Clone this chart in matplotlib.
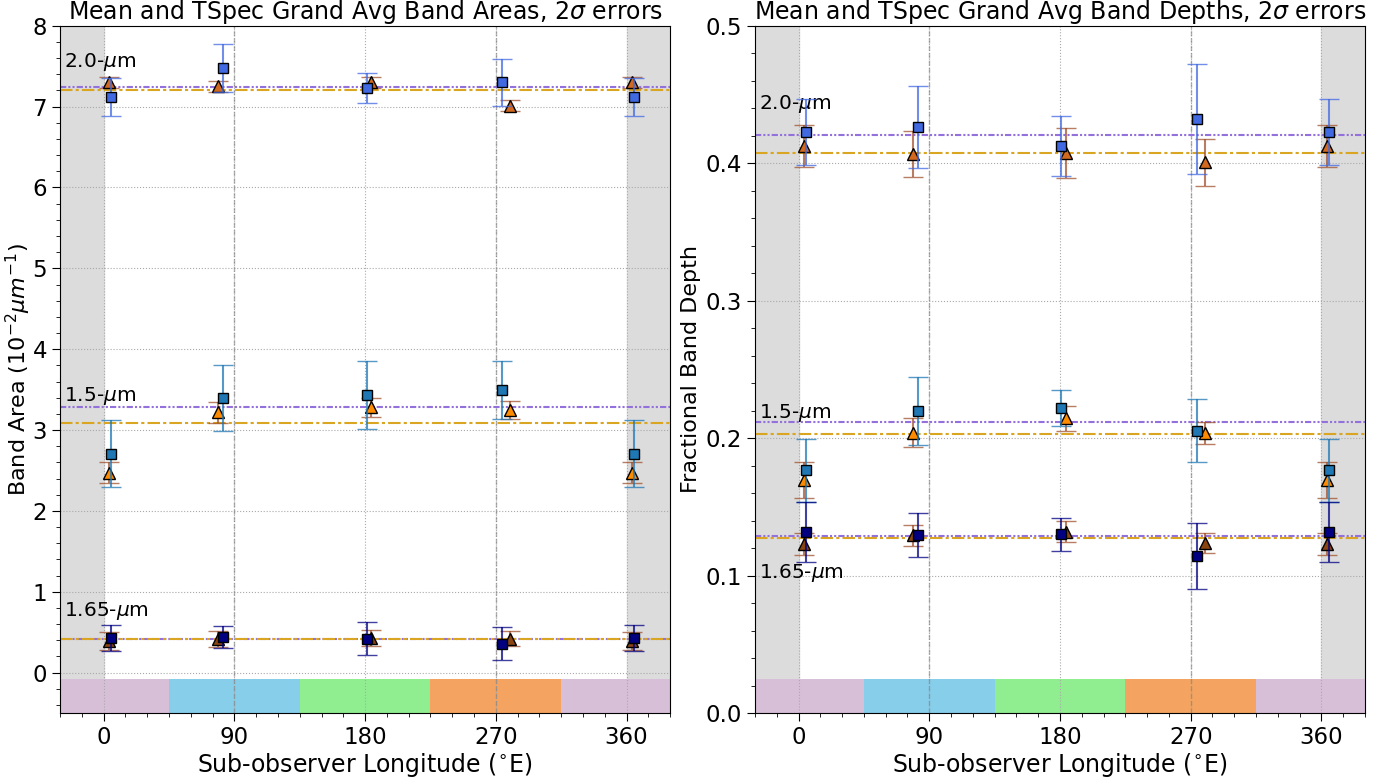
import numpy as np
import matplotlib
matplotlib.use("Agg")
import matplotlib.pyplot as plt
from matplotlib.ticker import MultipleLocator

# longitudes of the observations (squares = mean, triangles = TSpec grand avg)
sq_lon = [5, 82, 181, 274]
tri_lon = [3.5, 79, 184, 280]

bands = ["2.0", "1.5", "1.65"]

# band areas (10^-2 um^-1)
area_sq = {"2.0": [7.12, 7.48, 7.23, 7.30],
           "1.5": [2.71, 3.40, 3.43, 3.50],
           "1.65": [0.43, 0.44, 0.42, 0.36]}
area_sq_err = {"2.0": [0.23, 0.30, 0.19, 0.29],
               "1.5": [0.41, 0.41, 0.42, 0.36],
               "1.65": [0.16, 0.14, 0.20, 0.21]}
area_tri = {"2.0": [7.30, 7.25, 7.30, 7.01],
            "1.5": [2.47, 3.22, 3.28, 3.25],
            "1.65": [0.39, 0.42, 0.43, 0.42]}
area_tri_err = {"2.0": [0.07, 0.07, 0.07, 0.07],
                "1.5": [0.13, 0.13, 0.12, 0.11],
                "1.65": [0.11, 0.10, 0.10, 0.09]}
area_mean = {"2.0": 7.245, "1.5": 3.29, "1.65": 0.41}
area_tspec = {"2.0": 7.20, "1.5": 3.09, "1.65": 0.41}
area_label_y = {"2.0": 7.55, "1.5": 3.42, "1.65": 0.76}

# fractional band depths
depth_sq = {"2.0": [0.4224, 0.4265, 0.4125, 0.4323],
            "1.5": [0.1765, 0.2197, 0.2219, 0.2054],
            "1.65": [0.1318, 0.1296, 0.1301, 0.1143]}
depth_sq_err = {"2.0": [0.024, 0.030, 0.022, 0.040],
                "1.5": [0.023, 0.0245, 0.013, 0.023],
                "1.65": [0.022, 0.016, 0.012, 0.024]}
depth_tri = {"2.0": [0.4125, 0.4068, 0.4075, 0.4006],
             "1.5": [0.1695, 0.2039, 0.2143, 0.2034],
             "1.65": [0.1231, 0.1293, 0.1320, 0.1236]}
depth_tri_err = {"2.0": [0.015, 0.017, 0.018, 0.017],
                 "1.5": [0.013, 0.0104, 0.009, 0.008],
                 "1.65": [0.008, 0.0075, 0.0075, 0.0075]}
depth_mean = {"2.0": 0.4204, "1.5": 0.2114, "1.65": 0.1289}
depth_tspec = {"2.0": 0.4074, "1.5": 0.2027, "1.65": 0.1277}
depth_label_y = {"2.0": 0.443, "1.5": 0.218, "1.65": 0.102}

sq_color = {"2.0": "royalblue", "1.5": "#1f77b4", "1.65": "navy"}
tri_color = {"2.0": "chocolate", "1.5": "darkorange", "1.65": "saddlebrown"}

# longitude bands along the bottom
band_edges = [-30, 45, 135, 225, 315, 390]
band_colors = ["thistle", "skyblue", "lightgreen", "sandybrown", "thistle"]


def wrap(lon, vals):
    # repeat the first observation at +360
    return list(lon) + [lon[0] + 360], list(vals) + [vals[0]]


def errbars(ax, lon, vals, errs, marker, ms, face, ecol, z):
    x, y = wrap(lon, vals)
    _, e = wrap(lon, errs)
    line, caps, bars = ax.errorbar(x, y, yerr=e, fmt=marker, ms=ms, mfc=face,
                                   mec="black", mew=1, ecolor=ecol,
                                   elinewidth=1.5, capsize=7, capthick=1.5,
                                   zorder=z)
    for c in caps:
        c.set_alpha(0.75)
    for b in bars:
        b.set_alpha(0.75)


def draw_panel(ax, sq, sq_err, tri, tri_err, mean, tspec, label_y):
    ax.axvspan(-30, 0, color="gainsboro", zorder=0)
    ax.axvspan(360, 390, color="gainsboro", zorder=0)
    for i in range(len(band_colors)):
        ax.axvspan(band_edges[i], band_edges[i + 1], ymin=0, ymax=0.05,
                   color=band_colors[i], lw=0, zorder=1)
    ax.grid(True, ls=":", color="darkgray", lw=0.8)
    ax.axvline(90, ls="--", color="gray", lw=1, alpha=0.6)
    ax.axvline(270, ls="--", color="gray", lw=1, alpha=0.6)

    for b in bands:
        ax.axhline(mean[b], color="mediumpurple", lw=1.5,
                   ls=(0, (3, 1, 1, 1, 1, 1)), zorder=2)
        ax.axhline(tspec[b], color="goldenrod", lw=1.5,
                   ls=(0, (6, 1.5, 1.5, 1.5)), zorder=2)
        errbars(ax, tri_lon, tri[b], tri_err[b], "^", 9, tri_color[b],
                "sienna", 3)
        errbars(ax, sq_lon, sq[b], sq_err[b], "s", 7.5, sq_color[b],
                sq_color[b], 4)
        ax.text(-27, label_y[b], b + r"-$\mu$m", fontsize=14.5, va="center")

    ax.set_xlim(-30, 390)
    ax.set_xticks([0, 90, 180, 270, 360])
    ax.xaxis.set_minor_locator(MultipleLocator(15))
    ax.tick_params(which="major", labelsize=16.5, length=6)
    ax.tick_params(which="minor", length=3)
    ax.set_xlabel(r"Sub-observer Longitude ($^{\circ}$E)", fontsize=17,
                  labelpad=1)


fig = plt.figure(figsize=(13.97, 7.81), dpi=100)
ax1 = fig.add_axes([0.043, 0.087, 0.4367, 0.88])
ax2 = fig.add_axes([0.5404, 0.087, 0.4367, 0.88])

draw_panel(ax1, area_sq, area_sq_err, area_tri, area_tri_err,
           area_mean, area_tspec, area_label_y)
ax1.set_ylim(-0.5, 8)
ax1.yaxis.set_major_locator(MultipleLocator(1))
ax1.yaxis.set_minor_locator(MultipleLocator(0.2))
ax1.set_ylabel(r"Band Area ($10^{-2} \mu m^{-1}$)", fontsize=16)
ax1.yaxis.set_label_coords(-0.044, 0.5)
ax1.set_title(r"Mean and TSpec Grand Avg Band Areas, 2$\sigma$ errors",
              fontsize=17, pad=3)

draw_panel(ax2, depth_sq, depth_sq_err, depth_tri, depth_tri_err,
           depth_mean, depth_tspec, depth_label_y)
ax2.set_ylim(0, 0.5)
ax2.yaxis.set_major_locator(MultipleLocator(0.1))
ax2.yaxis.set_minor_locator(MultipleLocator(0.02))
ax2.set_ylabel("Fractional Band Depth", fontsize=16)
ax2.yaxis.set_label_coords(-0.088, 0.5)
ax2.set_title(r"Mean and TSpec Grand Avg Band Depths, 2$\sigma$ errors",
              fontsize=17, pad=3)

fig.savefig("out.png", dpi=100)
